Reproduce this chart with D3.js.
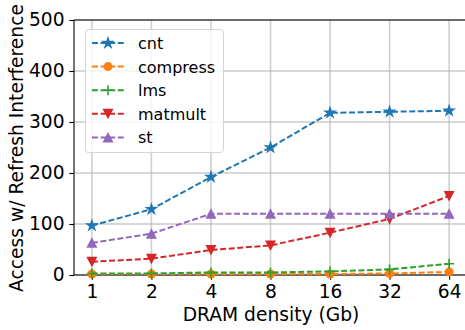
<!DOCTYPE html>
<html>
<head>
<meta charset="utf-8">
<script src="https://cdn.jsdelivr.net/npm/d3@7"></script>
<style>
  body { margin: 0; background: #fff; }
  svg { display: block; font-family: "DejaVu Sans", sans-serif; }
</style>
</head>
<body>
<script>
// data
var densities = ["1", "2", "4", "8", "16", "32", "64"]
var cnt      = [97, 129, 192, 250, 318, 320, 322]
var compress = [2, 2, 2, 2, 2, 3, 6]
var lms      = [3, 3, 5, 5, 7, 11, 22]
var matmult  = [26, 32, 49, 58, 83, 110, 155]
var st       = [63, 81, 120, 120, 120, 120, 120]
var yTicks   = [0, 100, 200, 300, 400, 500]

var series = [
  {name: "cnt", values: cnt, color: "#1f77b4", marker: "star"},
  {name: "compress", values: compress, color: "#ff7f0e", marker: "circle"},
  {name: "lms", values: lms, color: "#2ca02c", marker: "plus"},
  {name: "matmult", values: matmult, color: "#d62728", marker: "down"},
  {name: "st", values: st, color: "#9467bd", marker: "up"}
]

var W = 465, H = 330
var axLeft = 74, axRight = 467, axTop = 20, axBottom = 275

var svg = d3.select("body").append("svg")
  .attr("width", W)
  .attr("height", H)

var x = d3.scaleLinear().domain([-0.3, 6.3]).range([axLeft, axRight])
var y = d3.scaleLinear().domain([0, 500]).range([axBottom, axTop])

/* GRID */
svg.append("g").selectAll("line")
  .data(densities)
  .enter().append("line")
  .attr("x1", (d, i) => x(i)).attr("x2", (d, i) => x(i))
  .attr("y1", axTop).attr("y2", axBottom)
  .attr("stroke", "#cfcfcf").attr("stroke-width", 1.6)

svg.append("g").selectAll("line")
  .data(yTicks)
  .enter().append("line")
  .attr("x1", axLeft).attr("x2", axRight)
  .attr("y1", d => y(d)).attr("y2", d => y(d))
  .attr("stroke", "#b0b0b0").attr("stroke-width", 1.1)

/* AXES */
var xAxis = d3.axisBottom(x)
  .tickValues(d3.range(densities.length))
  .tickFormat(i => densities[i])
  .tickSizeOuter(0).tickSize(4.7).tickPadding(4.7)

var yAxis = d3.axisLeft(y)
  .tickValues(yTicks)
  .tickSizeOuter(0).tickSize(4.7).tickPadding(4.7)

svg.append("g")
  .attr("transform", "translate(0," + axBottom + ")")
  .call(xAxis)
svg.append("g")
  .attr("transform", "translate(" + axLeft + ",0)")
  .call(yAxis)

svg.selectAll(".domain").remove()
svg.selectAll(".tick line").attr("stroke", "#000").attr("stroke-width", 1.1)
svg.selectAll(".tick text")
  .attr("fill", "#000")
  .style("font-size", "18.67px")
  .style("font-family", "DejaVu Sans")

// spines
svg.append("line").attr("x1", axLeft).attr("x2", axLeft).attr("y1", axTop).attr("y2", axBottom)
  .attr("stroke", "#000").attr("stroke-width", 1.1)
svg.append("line").attr("x1", axLeft).attr("x2", axRight).attr("y1", axBottom).attr("y2", axBottom)
  .attr("stroke", "#000").attr("stroke-width", 1.1)
svg.append("line").attr("x1", axLeft).attr("x2", axRight).attr("y1", axTop).attr("y2", axTop)
  .attr("stroke", "#000").attr("stroke-width", 1.1)

/* LABELS */
svg.append("text")
  .attr("x", 271)
  .attr("y", 321)
  .attr("text-anchor", "middle")
  .style("font-size", "18.67px")
  .text("DRAM density (Gb)")

svg.append("text")
  .attr("transform", "translate(23,148) rotate(-90)")
  .attr("text-anchor", "middle")
  .style("font-size", "18.67px")
  .text("Access w/ Refresh Interference")

/* MARKERS */
function drawMarker(g, type, color, cx, cy) {
  if (type == "star") {
    g.append("path")
      .attr("d", d3.symbol().type(d3.symbolStar).size(60)())
      .attr("transform", "translate(" + cx + "," + cy + ")")
      .attr("fill", color)
  } else if (type == "circle") {
    g.append("circle").attr("cx", cx).attr("cy", cy).attr("r", 4.5).attr("fill", color)
  } else if (type == "plus") {
    g.append("path")
      .attr("d", "M" + (cx - 5) + "," + cy + "H" + (cx + 5) + "M" + cx + "," + (cy - 5) + "V" + (cy + 5))
      .attr("stroke", color).attr("stroke-width", 1.6)
  } else if (type == "down") {
    g.append("path")
      .attr("d", "M" + (cx - 5.5) + "," + (cy - 5) + "L" + (cx + 5.5) + "," + (cy - 5) + "L" + cx + "," + (cy + 5.5) + "Z")
      .attr("fill", color)
  } else if (type == "up") {
    g.append("path")
      .attr("d", "M" + (cx - 5.5) + "," + (cy + 5) + "L" + (cx + 5.5) + "," + (cy + 5) + "L" + cx + "," + (cy - 5.5) + "Z")
      .attr("fill", color)
  }
}

/* LINES */
var line = d3.line().x((d, i) => x(i)).y(d => y(d))

var plot = svg.append("g")
series.forEach(s => {
  plot.append("path")
    .datum(s.values)
    .attr("d", line)
    .attr("fill", "none")
    .attr("stroke", s.color)
    .attr("stroke-width", 2)
    .attr("stroke-dasharray", "6,2.6")
  s.values.forEach((v, i) => drawMarker(plot, s.marker, s.color, x(i), y(v)))
})

/* LEGEND */
var lg = svg.append("g")
lg.append("rect")
  .attr("x", 85.5).attr("y", 29.5)
  .attr("width", 138).attr("height", 123)
  .attr("rx", 3)
  .attr("fill", "#fff").attr("fill-opacity", 0.8)
  .attr("stroke", "#d5d5d5")

series.forEach((s, i) => {
  var ly = 43 + i * 23.6
  lg.append("line")
    .attr("x1", 92).attr("x2", 124)
    .attr("y1", ly).attr("y2", ly)
    .attr("stroke", s.color).attr("stroke-width", 2)
    .attr("stroke-dasharray", "6,2.6")
  drawMarker(lg, s.marker, s.color, 108, ly)
  lg.append("text")
    .attr("x", 138).attr("y", ly + 6)
    .style("font-size", "16px")
    .text(s.name)
})
</script>
</body>
</html>
